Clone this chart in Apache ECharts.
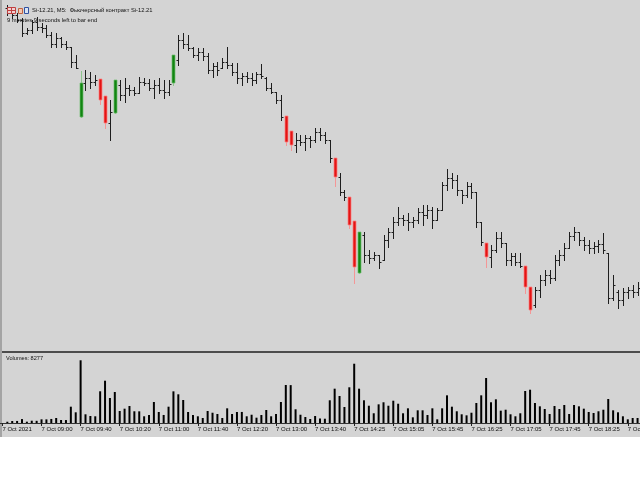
<!DOCTYPE html>
<html>
<head>
<meta charset="utf-8">
<script src="https://cdn.jsdelivr.net/npm/echarts/dist/echarts.min.js"></script>
<style>
html,body{margin:0;padding:0;background:#ffffff;}
#chart{width:640px;height:480px;}
</style>
</head>
<body>
<div id="chart"></div>
<script>
// ---- data (Si-12.21, M5, 7 Oct 2021) ----
const opens = [72784,72776,72770,72760,72734,72740,72756,72746,72744,72730,
72712,72724,72712,72706,72676,72566,72634,72644,72636,72642,
72608,72554,72574,72630,72610,72624,72620,72614,72636,72634,
72624,72630,72620,72616,72634,72680,72720,72712,72704,72690,
72696,72688,72660,72668,72664,72676,72670,72656,72644,72648,
72644,72640,72652,72644,72624,72616,72600,72568,72538,72510,
72520,72516,72524,72520,72536,72530,72520,72484,72446,72416,
72406,72358,72254,72330,72290,72284,72290,72280,72320,72336,
72356,72364,72360,72356,72360,72376,72370,72380,72360,72380,
72430,72444,72440,72420,72410,72428,72416,72356,72314,72286,
72300,72324,72314,72280,72288,72276,72268,72226,72190,72220,
72240,72250,72244,72280,72290,72304,72328,72336,72320,72310,
72304,72308,72312,72294,72204,72216,72200,72216,72220,72216];
const highs = [72790,72784,72774,72764,72744,72760,72766,72754,72750,72736,
72734,72726,72718,72706,72690,72658,72660,72656,72650,72642,
72608,72600,72640,72640,72644,72630,72626,72646,72644,72642,
72640,72644,72640,72640,72690,72730,72734,72730,72706,72704,
72704,72694,72674,72676,72684,72706,72674,72674,72654,72656,
72654,72656,72672,72646,72634,72616,72610,72568,72538,72534,
72530,72530,72528,72544,72544,72536,72520,72484,72454,72420,
72406,72358,72336,72336,72300,72296,72290,72330,72344,72366,
72386,72370,72374,72366,72384,72390,72390,72386,72384,72436,
72462,72454,72450,72420,72436,72434,72416,72356,72314,72310,
72336,72336,72314,72294,72294,72294,72268,72226,72226,72250,
72260,72260,72290,72300,72314,72336,72346,72336,72326,72320,
72316,72320,72334,72294,72250,72220,72224,72226,72230,72236];
const lows = [72770,72764,72756,72728,72732,72734,72740,72736,72726,72706,
72706,72706,72702,72666,72664,72566,72620,72624,72630,72592,
72544,72520,72574,72600,72596,72610,72610,72614,72630,72620,
72604,72614,72604,72610,72630,72670,72704,72700,72686,72680,
72680,72654,72646,72650,72664,72664,72650,72634,72630,72636,
72630,72634,72644,72620,72614,72594,72560,72510,72500,72496,
72510,72500,72506,72516,72520,72514,72476,72428,72410,72400,
72344,72234,72254,72276,72274,72280,72264,72280,72306,72324,
72350,72350,72340,72346,72354,72350,72364,72344,72360,72380,
72420,72424,72410,72394,72406,72404,72346,72310,72266,72266,
72296,72306,72270,72270,72270,72266,72214,72174,72186,72206,
72230,72234,72240,72270,72280,72304,72320,72310,72300,72294,
72294,72296,72294,72194,72200,72184,72190,72204,72206,72210];
const closes = [72776,72770,72760,72734,72740,72756,72746,72744,72730,72712,
72724,72712,72706,72676,72664,72634,72644,72636,72640,72600,
72554,72576,72640,72610,72624,72620,72614,72636,72634,72624,
72630,72620,72616,72632,72690,72720,72712,72704,72690,72696,
72688,72660,72668,72660,72676,72670,72656,72644,72648,72644,
72640,72652,72648,72624,72616,72600,72566,72516,72510,72520,
72516,72524,72520,72536,72530,72520,72484,72446,72416,72406,
72350,72266,72336,72290,72284,72290,72276,72320,72336,72356,
72364,72360,72356,72360,72376,72370,72380,72360,72380,72430,
72444,72440,72420,72410,72428,72416,72356,72316,72286,72300,
72324,72314,72280,72288,72276,72268,72226,72180,72220,72240,
72250,72244,72280,72290,72304,72328,72336,72320,72310,72304,
72308,72312,72300,72204,72230,72200,72216,72220,72216,72224];
const volumes = [2100,3300,3400,6500,2200,3800,3600,6100,6000,6700,
8300,5000,4900,27000,17700,103800,14400,11600,11100,52500,
70000,41400,51300,19900,23700,28100,19400,19300,11100,13200,
34800,18200,13300,27000,52400,47500,38100,18200,13200,11100,
8300,19900,17000,14900,8300,24300,14900,18200,18300,11100,
13700,8800,13200,21500,11100,14900,34800,62900,62700,22700,
13700,9900,6600,11600,7400,7100,37600,56800,44700,26500,
59100,98100,56800,37600,28600,16100,30900,34300,28600,36900,
31900,16100,24300,9400,21000,21000,13200,24300,6100,24300,
45800,27000,19400,14400,12700,17000,33100,45800,74500,34300,
39200,20400,22000,14400,11100,16100,53000,55100,33100,27600,
23200,14900,28100,23200,29800,14900,29800,27600,23700,18200,
16600,19400,22000,39700,21000,17700,11100,6100,8300,8277];
const redBars = [19,20,57,58,67,70,71,98,106,107];
const greenBars = [15,22,34,72];
const timeLabels = ['7 Oct 2021','7 Oct 09:00','7 Oct 09:40','7 Oct 10:20','7 Oct 11:00',
'7 Oct 11:40','7 Oct 12:20','7 Oct 13:00','7 Oct 13:40','7 Oct 14:25','7 Oct 15:05',
'7 Oct 15:45','7 Oct 16:25','7 Oct 17:05','7 Oct 17:45','7 Oct 18:25','7 Oct 19:05'];
const titleText = 'Si-12.21, M5:  Фьючерсный контракт Si-12.21';
const timerText = '9 minutes 9 seconds left to bar end';
const volumeText = 'Volumes: 8277';

// ---- build ----
const nCat = opens.length + 1; // leading slot is the bar before the window
const categories = [];
for (let k = 0; k < nCat; k++) categories.push(String(k));
const ohlc = opens.map((o, i) => {
  const kind = redBars.indexOf(i) >= 0 ? 1 : (greenBars.indexOf(i) >= 0 ? 2 : 0);
  return [i + 1, o, highs[i], lows[i], closes[i], kind];
});
const volData = [null].concat(volumes);

function renderBar(params, api) {
  const k = api.value(0);
  const po = api.coord([k, api.value(1)]);
  const ph = api.coord([k, api.value(2)]);
  const pl = api.coord([k, api.value(3)]);
  const pc = api.coord([k, api.value(4)]);
  const kind = api.value(5);
  const x = Math.round(po[0]) + 0.5;
  if (kind === 0) {
    const yo = Math.round(po[1]) + 0.5, yc = Math.round(pc[1]) + 0.5;
    const st = {stroke: '#1e1e1e', lineWidth: 1};
    return {type: 'group', children: [
      {type: 'line', shape: {x1: x, y1: Math.round(ph[1]), x2: x, y2: Math.round(pl[1]) + 1}, style: st},
      {type: 'line', shape: {x1: x - 2, y1: yo, x2: x, y2: yo}, style: st},
      {type: 'line', shape: {x1: x, y1: yc, x2: x + 2, y2: yc}, style: st}
    ]};
  }
  const fill = kind === 1 ? '#e31414' : '#128412';
  const edge = kind === 1 ? 'rgba(255,130,130,0.75)' : 'rgba(110,190,110,0.7)';
  const top = Math.min(po[1], pc[1]), bot = Math.max(po[1], pc[1]);
  return {type: 'group', children: [
    {type: 'line', shape: {x1: x, y1: Math.round(ph[1]), x2: x, y2: Math.round(pl[1]) + 1}, style: {stroke: edge, lineWidth: 1}},
    {type: 'rect', shape: {x: x - 1.5, y: Math.round(top), width: 3, height: Math.round(bot - top)}, style: {fill: fill, stroke: edge, lineWidth: 1}}
  ]};
}

const chart = echarts.init(document.getElementById('chart'), null, {renderer: 'canvas'});
const font = 'Liberation Sans';
chart.setOption({
  animation: false,
  backgroundColor: '#ffffff',
  textStyle: {fontFamily: font},
  graphic: [
    {type: 'rect', z: -10, shape: {x: 0, y: 0, width: 640, height: 437}, style: {fill: '#d4d4d4'}},
    {type: 'rect', z: -9, shape: {x: 0, y: 0, width: 2, height: 437}, style: {fill: '#a4a4a4'}},
    {type: 'rect', z: 5, shape: {x: 2, y: 351, width: 638, height: 2}, style: {fill: '#4c4c4c'}},
    // header icons
    {type: 'rect', z: 5, shape: {x: 7.5, y: 7.5, width: 8, height: 6}, style: {fill: '#f0d0d0', stroke: '#c04040', lineWidth: 1}},
    {type: 'line', z: 5, shape: {x1: 7.5, y1: 10.5, x2: 15.5, y2: 10.5}, style: {stroke: '#c04040', lineWidth: 1}},
    {type: 'line', z: 5, shape: {x1: 11.5, y1: 7.5, x2: 11.5, y2: 13.5}, style: {stroke: '#c04040', lineWidth: 1}},
    {type: 'rect', z: 5, shape: {x: 18.5, y: 8.5, width: 4, height: 5}, style: {fill: '#f4c8b0', stroke: '#c06040', lineWidth: 1}},
    {type: 'rect', z: 5, shape: {x: 24.5, y: 7.5, width: 4, height: 6}, style: {fill: '#d8e4f4', stroke: '#3050a0', lineWidth: 1}}
  ],
  title: [
    {text: titleText, left: 32, top: 7.5, padding: 0, textStyle: {fontSize: 5.8, fontWeight: 'normal', color: '#111', fontFamily: font}},
    {text: timerText, left: 7, top: 17, padding: 0, textStyle: {fontSize: 5.8, fontWeight: 'normal', color: '#111', fontFamily: font}},
    {text: volumeText, left: 6, top: 355.5, padding: 0, textStyle: {fontSize: 5.6, fontWeight: 'normal', color: '#111', fontFamily: font}}
  ],
  grid: [
    {left: 0, width: 640, top: 0, height: 352, containLabel: false, outerBoundsMode: 'none'},
    {left: 0, width: 640, top: 354, height: 69, containLabel: false, outerBoundsMode: 'none'}
  ],
  xAxis: [
    {type: 'category', gridIndex: 0, data: categories, boundaryGap: true, show: false},
    {type: 'category', gridIndex: 1, data: categories, boundaryGap: true,
      axisLine: {show: true, lineStyle: {color: '#333', width: 1}},
      axisTick: {show: true, interval: function (idx) { return idx % 8 === 0; }, length: 3, alignWithLabel: true, lineStyle: {color: '#222'}},
      axisLabel: {interval: function (idx) { return idx % 8 === 0; }, align: 'left', margin: 3, fontSize: 6, color: '#111', fontFamily: font,
        hideOverlap: false, overflow: 'none',
        formatter: function (v, idx) { return timeLabels[Math.round(idx / 8)] || ''; }},
      splitLine: {show: false}}
  ],
  yAxis: [
    {type: 'value', gridIndex: 0, min: 72096, max: 72800, show: false, splitLine: {show: false}},
    {type: 'value', gridIndex: 1, min: 0, max: 114200, show: false, splitLine: {show: false}}
  ],
  series: [
    {type: 'custom', xAxisIndex: 0, yAxisIndex: 0, renderItem: renderBar, data: ohlc,
      encode: {x: 0, y: [1, 2, 3, 4]}, clip: true, z: 3},
    {type: 'bar', xAxisIndex: 1, yAxisIndex: 1, data: volData, barWidth: 2,
      itemStyle: {color: '#000'}, z: 3}
  ]
});
</script>
</body>
</html>
